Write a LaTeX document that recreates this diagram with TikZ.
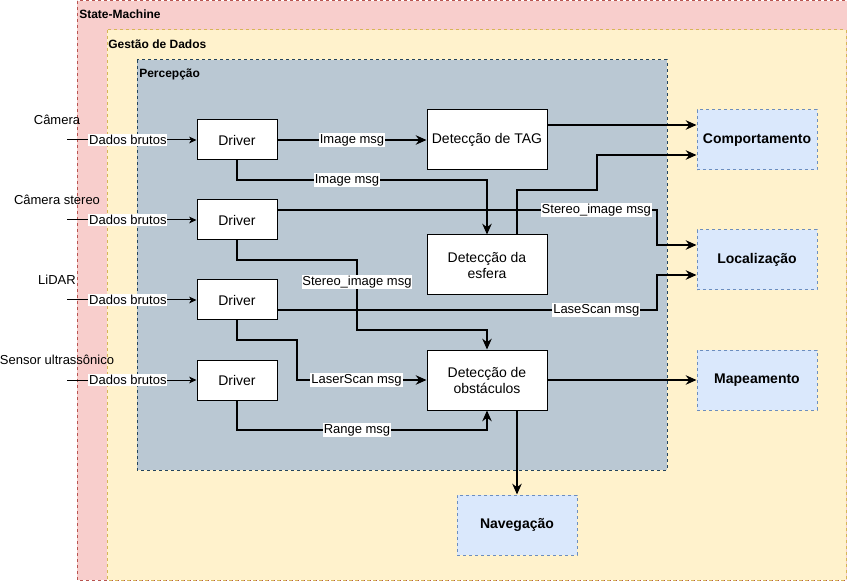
\documentclass[tikz,border=0pt]{standalone}
\usepackage{fontspec}
\setmainfont{Liberation Sans}
\usetikzlibrary{positioning,calc,arrows.meta}

\definecolor{smfill}{HTML}{F8CECC}
\definecolor{smline}{HTML}{B85450}
\definecolor{gdfill}{HTML}{FFF2CC}
\definecolor{gdline}{HTML}{D6B656}
\definecolor{pcfill}{HTML}{BAC8D3}
\definecolor{pcline}{HTML}{23445D}
\definecolor{mdfill}{HTML}{DAE8FC}
\definecolor{mdline}{HTML}{6C8EBF}

\tikzset{
	grp/.style={line width=0.75pt,dash pattern=on 2.25pt off 2.25pt},
	grptitle/.style={anchor=west,inner sep=0pt,font=\bfseries\fontsize{9}{10}\selectfont},
	drv/.style={draw,fill=white,line width=0.75pt,minimum width=60pt,minimum height=30pt,inner sep=0pt,font=\fontsize{10.5}{12}\selectfont},
	det/.style={drv,minimum width=90pt,minimum height=45pt,align=center},
	modbox/.style={draw=mdline,fill=mdfill,grp,minimum width=90pt,minimum height=45pt,inner sep=0pt,font=\bfseries\fontsize{10.5}{12}\selectfont},
	lbl/.style={fill=white,inner sep=0.7pt,font=\fontsize{9.75}{11}\selectfont},
	sens/.style={inner sep=0pt,font=\fontsize{9.75}{11}\selectfont},
	msg/.style={line width=1.5pt,-{Stealth[length=8pt,width=7pt,inset=2.5pt]}},
	raw/.style={line width=0.75pt,-{Stealth[length=5.5pt,width=5pt,inset=1.5pt]}}
}

\begin{document}
\begin{tikzpicture}[x=0.75pt,y=-0.75pt]
\useasboundingbox (0,0) rectangle (847,581);

\draw[grp,draw=smline,fill=smfill] (77,1) rectangle (860,580);
\node[grptitle] (smt) at (79,14) {State-Machine};
\draw[grp,draw=gdline,fill=gdfill] (107,30) rectangle (846,580);
\node[grptitle] (gdt) at (108,44) {Gestão de Dados};
\draw[grp,draw=pcline,fill=pcfill] (137,60) rectangle (667,470);
\node[grptitle] (pct) at (139,74) {Percepção};

\foreach[count=\c] \y/\s in {140/Câmera,220/Câmera stereo,300/LiDAR,380/Sensor ultrassônico}{
	\node[drv] (d\c) at (237,\y) {Driver};
	\node[sens] (s\c) at (57,\y-20) {\s};
	\coordinate (in\c) at (67,\y);
	\draw[raw] (in\c) -- node[lbl,pos=0.47]{Dados brutos} (d\c);
}

\node[det] (tag) at (487,140) {Detecção de TAG};
\node[det] (esf) at (487,265) {Detecção da\\esfera};
\node[det] (obs) at (487,380) {Detecção de\\obstáculos};

\node[modbox] (comp) at (757,140) {Comportamento};
\node[modbox] (loc) at (757,260) {Localização};
\node[modbox] (map) at (757,380) {Mapeamento};
\node[modbox] (nav) at (517,525) {Navegação};

\draw[msg] (d1) -- node[lbl]{Image msg} (tag);
\draw[msg] (d1.south) |- node[lbl,pos=0.72]{Image msg} (487,180) -- (esf.north);
\draw[msg] ($(d2.east)+(0,-10)$) -- node[lbl,pos=0.84]{Stereo\_image msg} (657,210) |- ($(loc.west)+(0,-15)$);
\draw[msg] (d2.south) |- (357,260) |- node[lbl,pos=0.16]{Stereo\_image msg} (487,330) -- (obs.north);
\draw[msg] ($(d3.east)+(0,10)$) -- node[lbl,pos=0.84]{LaseScan msg} (657,310) |- ($(loc.west)+(0,15)$);
\draw[msg] (d3.south) |- (297,340) |- node[lbl,pos=0.73]{LaserScan msg} (obs.west);
\draw[msg] (d4.south) |- node[lbl,pos=0.74]{Range msg} (487,430) -- (obs.south);

\draw[msg] ($(tag.east)+(0,-15)$) -- ($(comp.west)+(0,-15)$);
\draw[msg] ($(esf.north)+(30,0)$) |- (597,190) |- ($(comp.west)+(0,15)$);
\draw[msg] (obs) -- (map);
\draw[msg] ($(obs.south)+(30,0)$) -- (nav.north);
\end{tikzpicture}
\end{document}
